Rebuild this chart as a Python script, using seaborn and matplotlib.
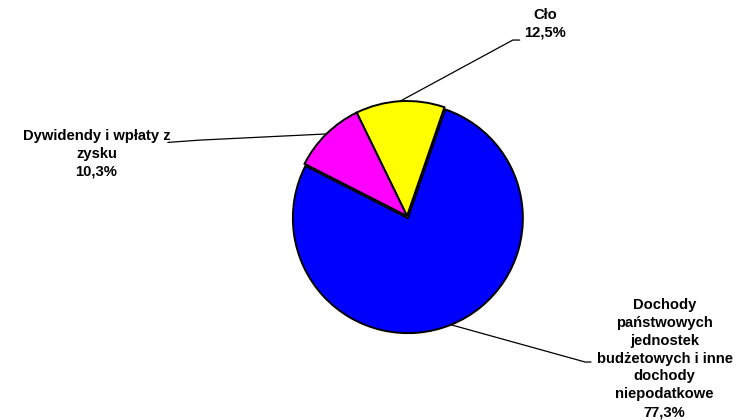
import numpy as np
import matplotlib
matplotlib.use("Agg")
import matplotlib.pyplot as plt
import seaborn as sns

# data
labels = ["Cło", "Dywidendy i wpłaty z\nzysku",
          "Dochody\npaństwowych\njednostek\nbudżetowych i inne\ndochody\nniepodatkowe"]
values = [12.5, 10.3, 77.3]
pct_labels = ["12,5%", "10,3%", "77,3%"]
colors = ["#FFFF00", "#FF00FF", "#0000FF"]

sns.set_theme(style="white")
plt.rcParams["font.family"] = ["Liberation Sans", "DejaVu Sans"]

fig = plt.figure(figsize=(7.45, 4.2), dpi=100)
ax = fig.add_axes([0, 0, 1, 1])

wedges, _ = ax.pie(values, colors=colors, startangle=71, counterclock=True,
                   explode=[0, 0, 0.02],
                   wedgeprops=dict(edgecolor="black", linewidth=1.4))

# place pie: center at (407, 216) px, radius 115 px
r_px = 115
ax.set_xlim(-407 / r_px, (745 - 407) / r_px)
ax.set_ylim(-204 / r_px, (420 - 204) / r_px)
ax.set_aspect("auto")
ax.axis("off")

# text centers and leader elbows (data units)
text_pos = [(1.20, 1.67), (-2.70, 0.54), (2.24, -1.24)]
elbows = [[(0.92, 1.53), (0.98, 1.53)],
          [(-1.80, 0.66), (-2.08, 0.64)],
          [(1.55, -1.27), (1.60, -1.27)]]

for w, lab, pct, tp, el in zip(wedges, labels, pct_labels, text_pos, elbows):
    ang = np.deg2rad((w.theta1 + w.theta2) / 2)
    cx, cy = w.center
    px = cx + w.r * np.cos(ang)
    py = cy + w.r * np.sin(ang)
    xs = [px] + [e[0] for e in el]
    ys = [py] + [e[1] for e in el]
    ax.plot(xs, ys, color="black", lw=0.9)
    ax.text(tp[0], tp[1], lab + "\n" + pct, ha="center", va="center",
            fontsize=10.6, fontweight="bold", linespacing=1.35, color="black")

fig.savefig("out.png", dpi=100, facecolor="white")
